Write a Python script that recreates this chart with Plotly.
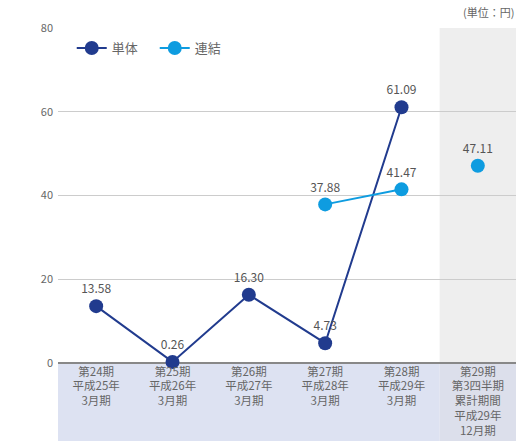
import plotly.graph_objects as go

categories = ["第24期<br>平成25年<br>3月期", "第25期<br>平成26年<br>3月期", "第26期<br>平成27年<br>3月期",
              "第27期<br>平成28年<br>3月期", "第28期<br>平成29年<br>3月期",
              "第29期<br>第3四半期<br>累計期間<br>平成29年<br>12月期"]
tandoku = [13.58, 0.26, 16.30, 4.73, 61.09, None]
renketsu = [None, None, None, 37.88, 41.47, None]
renketsu_q3 = [None, None, None, None, None, 47.11]
y_ticks = [0, 20, 40, 60, 80]

xs = list(range(len(categories)))
FONT = "Noto Sans CJK JP, Noto Sans, sans-serif"
NAVY = "#213b8e"
BLUE = "#0e9ce0"

def labels(vals):
    return [("%.2f" % v) if v is not None else "" for v in vals]

fig = go.Figure()
fig.add_trace(go.Scatter(x=xs, y=tandoku, mode="lines+markers+text", name="単体",
                         line=dict(color=NAVY, width=2), marker=dict(color=NAVY, size=14),
                         text=labels(tandoku), textposition="top center",
                         textfont=dict(size=12, color="#555555", family=FONT),
                         cliponaxis=False))
fig.add_trace(go.Scatter(x=xs, y=renketsu, mode="lines+markers+text", name="連結",
                         line=dict(color=BLUE, width=2), marker=dict(color=BLUE, size=14),
                         text=labels(renketsu), textposition="top center",
                         textfont=dict(size=12, color="#555555", family=FONT),
                         cliponaxis=False))
fig.add_trace(go.Scatter(x=xs, y=renketsu_q3, mode="markers+text", name="連結",
                         showlegend=False, marker=dict(color=BLUE, size=14),
                         text=labels(renketsu_q3), textposition="top center",
                         textfont=dict(size=12, color="#555555", family=FONT),
                         cliponaxis=False))

shapes = [
    dict(type="rect", xref="x", yref="y", x0=4.5, x1=5.5, y0=0, y1=80,
         fillcolor="#eeeeee", line_width=0, layer="below"),
    dict(type="rect", xref="x", yref="paper", x0=-0.5, x1=4.5, y0=-0.233, y1=0,
         fillcolor="#dde2f2", line_width=0, layer="below"),
    dict(type="rect", xref="x", yref="paper", x0=4.5, x1=5.5, y0=-0.233, y1=0,
         fillcolor="#dcdfeb", line_width=0, layer="below"),
]

fig.update_layout(
    width=516, height=441,
    margin=dict(l=58, r=0, t=28, b=78),
    paper_bgcolor="white", plot_bgcolor="white",
    font=dict(family=FONT, color="#666666", size=11),
    shapes=shapes,
    showlegend=True,
    legend=dict(orientation="h", x=0.03, y=0.985, xanchor="left", yanchor="top",
                bgcolor="rgba(0,0,0,0)", font=dict(size=13, color="#666666", family=FONT),
                itemwidth=30, entrywidth=38, entrywidthmode="pixels"),
    xaxis=dict(range=[-0.5, 5.5], tickvals=xs, ticktext=categories, showgrid=False,
               zeroline=False, showline=False, ticks="", tickfont=dict(size=11.5, color="#666666"),
               fixedrange=True),
    yaxis=dict(range=[0, 80], tickvals=y_ticks, showgrid=True, gridcolor="#cccccc", gridwidth=1,
               zeroline=True, zerolinecolor="#888888", zerolinewidth=2, ticks="",
               ticklabelstandoff=4, tickfont=dict(size=11, color="#666666")),
    annotations=[dict(text="(単位：円)", xref="paper", yref="paper", x=1.0, y=1.0,
                      xanchor="right", yanchor="bottom", yshift=6, showarrow=False,
                      font=dict(size=11, color="#666666", family=FONT))],
)

fig.write_html("out.html", config={"displayModeBar": False},
               post_script="document.body.style.margin='0';document.body.style.overflow='hidden';")
